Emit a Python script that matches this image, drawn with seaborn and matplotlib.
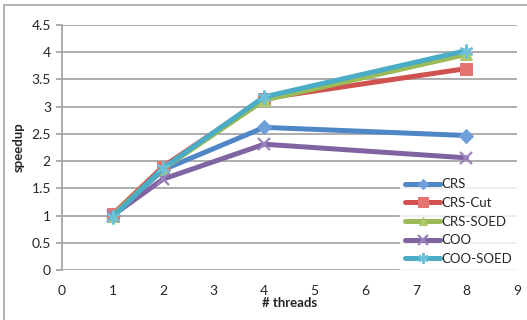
import matplotlib
matplotlib.use("Agg")
import matplotlib.pyplot as plt
import seaborn as sns
import pandas as pd
from matplotlib.patches import Rectangle

threads = [1, 2, 4, 8]
crs = [1.00, 1.84, 2.62, 2.47]
crs_cut = [1.02, 1.90, 3.15, 3.70]
crs_soed = [1.00, 1.86, 3.12, 3.96]
coo = [1.00, 1.67, 2.31, 2.06]
coo_soed = [0.97, 1.87, 3.18, 4.03]
series_names = ["CRS", "CRS-Cut", "CRS-SOED", "COO", "COO-SOED"]
series_values = [crs, crs_cut, crs_soed, coo, coo_soed]
x_ticks = list(range(0, 10))
y_ticks = [0, 0.5, 1, 1.5, 2, 2.5, 3, 3.5, 4, 4.5]
y_tick_labels = ["0", "0.5", "1", "1.5", "2", "2.5", "3", "3.5", "4", "4.5"]

colors = ["#4F86C6", "#D0524E", "#9BBB59", "#8064A2", "#4BACC6"]
face_colors = ["#6FA0DC", "#E57370", "#A9C96A", "#9A82BC", "#6CC0D8"]
markers = ["D", "s", "^", "x", (6, 2, 0)]
msizes = [7, 9, 8, 9, 10]

sns.set_theme(style="white")
plt.rcParams["font.family"] = ["Lato", "DejaVu Sans"]

fig = plt.figure(figsize=(5.27, 3.2), dpi=100)
ax = fig.add_axes([62 / 527, 50 / 320, 455 / 527, 245 / 320])

for name, vals, c, fc, m, ms in zip(series_names, series_values, colors, face_colors, markers, msizes):
    df = pd.DataFrame({"threads": threads, "speedup": vals})
    filled = m not in ("x", (6, 2, 0))
    kw = dict(markerfacecolor=fc, markeredgecolor=fc) if filled else dict(markeredgecolor=fc, markeredgewidth=1.6)
    sns.lineplot(data=df, x="threads", y="speedup", ax=ax, color=c, lw=3.6,
                 marker=m, markersize=ms, label=name, **kw)

ax.set_xlim(0, 9)
ax.set_ylim(0, 4.5)
ax.set_xticks(x_ticks)
ax.set_xticklabels([str(t) for t in x_ticks])
ax.set_yticks(y_ticks)
ax.set_yticklabels(y_tick_labels)
ax.yaxis.grid(True, color="#A6A6A6", lw=1.3)
ax.xaxis.grid(False)
ax.set_axisbelow(True)
for s in ["top", "right", "bottom"]:
    ax.spines[s].set_visible(False)
ax.spines["left"].set_color("#A6A6A6")
ax.spines["left"].set_linewidth(1.3)
ax.tick_params(axis="y", left=True, length=4, width=1.3, color="#A6A6A6", labelsize=10, pad=4)
ax.tick_params(axis="x", bottom=False, labelsize=10, pad=5)
ax.set_xlabel("# threads", fontsize=9.5, fontweight="bold", labelpad=0)
ax.set_ylabel("speedup", fontsize=9.5, fontweight="bold", labelpad=5)

leg = ax.legend(loc="lower right", bbox_to_anchor=(1.0, 0.0), frameon=True, fontsize=9.5,
                handlelength=2.6, handletextpad=0.1, labelspacing=0.5, borderpad=0.4,
                borderaxespad=0.0, fancybox=False, markerscale=0.75)
leg.get_frame().set_facecolor("white")
leg.get_frame().set_edgecolor("white")

fig.patches.append(Rectangle((4 / 527, -0.1), 1.2, (320 - 5) / 320 + 0.1, transform=fig.transFigure,
                             fill=False, edgecolor="#A6A6A6", lw=1.2))

fig.savefig("out.png", dpi=100)
